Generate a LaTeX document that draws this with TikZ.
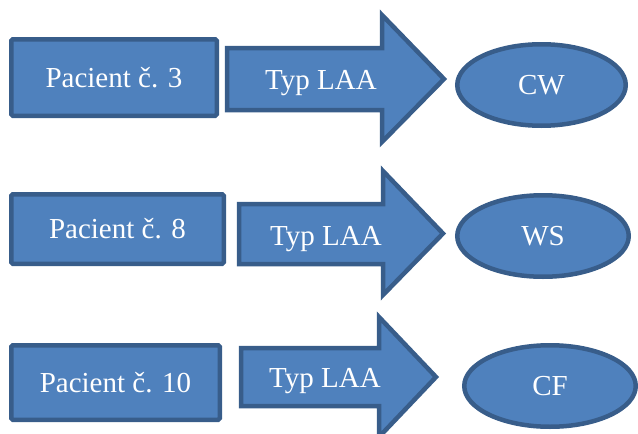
\documentclass[tikz,border=0pt]{standalone}
\usepackage{fontspec}
\newfontfamily\timesfont{LiberationSerif-Regular.ttf}
\usetikzlibrary{shapes.geometric}
\definecolor{boxfill}{HTML}{4F81BD}
\definecolor{boxline}{HTML}{385D8A}
\begin{document}
\begin{tikzpicture}[x=1pt, y=-1pt,
    label text/.style={text=white, font=\timesfont\fontsize{29}{34}\selectfont, text height=19pt, text depth=0pt, inner sep=0pt},
    patient/.style={label text, draw=boxline, fill=boxfill, line width=4.5pt, rounded corners=1.5pt},
    result/.style={label text, ellipse, draw=boxline, fill=boxfill, line width=4.5pt},
    blockarrow/.style={draw=boxline, fill=boxfill, line width=4.5pt, line join=miter}]
    \useasboundingbox (0,0) rectangle (638,434);

    % row 1
    \node [patient, minimum width=205.5pt, minimum height=76.5pt] (pac3) at (114,77.5) {Pacient č. 3};
    \draw [blockarrow] (227,48) -- (382,48) -- (382,15) -- (444,79) -- (382,142) -- (382,110) -- (227,110) -- cycle;
    \node [label text] (laa1) at (321,80) {Typ LAA};
    \node [result, minimum width=168.5pt, minimum height=81.5pt] (cw) at (541.5,85) {CW};

    % row 2
    \node [patient, minimum width=212.5pt, minimum height=69.5pt] (pac8) at (117.5,229) {Pacient č. 8};
    \draw [blockarrow] (239,204) -- (383,204) -- (383,171) -- (443,233.5) -- (383,295) -- (383,264) -- (239,264) -- cycle;
    \node [label text] (laa2) at (326,236) {Typ LAA};
    \node [result, minimum width=171.5pt, minimum height=81.5pt] (ws) at (543,236) {WS};

    % row 3
    \node [patient, minimum width=208.5pt, minimum height=74.5pt] (pac10) at (115.5,382.5) {Pacient č. 10};
    \draw [blockarrow] (241,348) -- (379,348) -- (379,317) -- (436,377) -- (379,437) -- (379,406) -- (241,406) -- cycle;
    \node [label text] (laa3) at (325,378) {Typ LAA};
    \node [result, minimum width=171.5pt, minimum height=81.5pt] (cf) at (550,386) {CF};
\end{tikzpicture}
\end{document}
